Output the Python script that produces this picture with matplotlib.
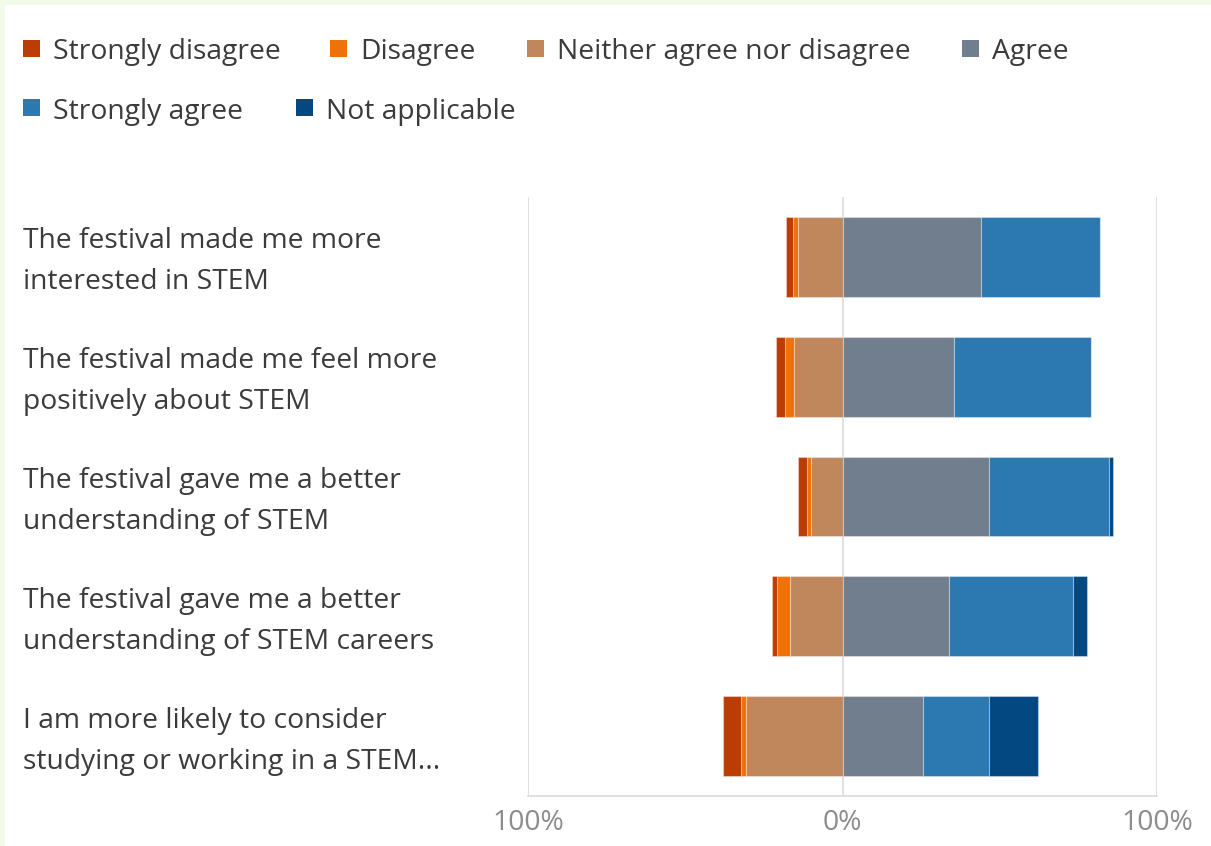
import matplotlib
matplotlib.use("Agg")
import matplotlib.pyplot as plt
import matplotlib.patches as mpatches
import numpy as np

# Survey statements (wrapped as shown on the chart)
statements = [
    "The festival made me more\ninterested in STEM",
    "The festival made me feel more\npositively about STEM",
    "The festival gave me a better\nunderstanding of STEM",
    "The festival gave me a better\nunderstanding of STEM careers",
    "I am more likely to consider\nstudying or working in a STEM...",
]

# Response shares, percent of respondents
strongly_disagree = [2.5, 2.8, 2.7, 1.7, 5.7]
disagree = [1.6, 2.8, 1.4, 3.9, 1.5]
neither = [14.0, 15.4, 9.9, 16.8, 30.7]
agree = [43.9, 35.6, 46.6, 33.9, 25.5]
strongly_agree = [38.0, 43.4, 38.1, 39.5, 21.1]
not_applicable = [0.0, 0.0, 1.3, 4.2, 15.5]

series_names = ["Strongly disagree", "Disagree", "Neither agree nor disagree",
                "Agree", "Strongly agree", "Not applicable"]
colors = ["#BC3D03", "#EE720A", "#C0875C", "#707E8E", "#2C78B0", "#034881"]

tick_values = [-100, 0, 100]
tick_labels = ["100%", "0%", "100%"]

W, H = 1211, 846
fig = plt.figure(figsize=(W / 100, H / 100), dpi=100)
fig.patch.set_facecolor("#F2FAEA")

def fx(px):
    return px / W

def fy(py):
    return 1 - py / H

# white panel inside the pale frame
fig.patches.append(mpatches.Rectangle((fx(5), 0), 1 - fx(5), fy(5), transform=fig.transFigure,
                                      facecolor="white", edgecolor="none", zorder=-5))

FONT = "Open Sans"
TEXT_COLOR = "#3B3B3B"
FS = 20.3

ax = fig.add_axes([fx(528), fy(796), fx(1157) - fx(528), fy(197) - fy(796)])
ax.set_zorder(2)
ax.set_facecolor("none")

y = np.arange(len(statements))
bar_h = 0.667
edge = dict(edgecolor=(1, 1, 1, 0.35), linewidth=0.8)

sd = np.array(strongly_disagree)
d = np.array(disagree)
n = np.array(neither)
a = np.array(agree)
sa = np.array(strongly_agree)
na = np.array(not_applicable)

# negative side: neutral nearest zero, then disagree, then strongly disagree
ax.barh(y, -n, left=0, height=bar_h, color=colors[2], zorder=3, **edge)
ax.barh(y, -d, left=-n, height=bar_h, color=colors[1], zorder=3, **edge)
ax.barh(y, -sd, left=-(n + d), height=bar_h, color=colors[0], zorder=3, **edge)
# positive side
ax.barh(y, a, left=0, height=bar_h, color=colors[3], zorder=3, **edge)
ax.barh(y, sa, left=a, height=bar_h, color=colors[4], zorder=3, **edge)
ax.barh(y, na, left=a + sa, height=bar_h, color=colors[5], zorder=3, **edge)

ax.set_xlim(-100, 100)
ax.set_ylim(len(statements) - 0.5, -0.5)
ax.set_xticks(tick_values)
ax.set_xticklabels(tick_labels, fontfamily=FONT, fontsize=FS, color="#8C8C8C")
ax.tick_params(axis="x", length=0, pad=9)
ax.set_yticks([])
for v in tick_values:
    ax.axvline(v, color="#DADADA", linewidth=1.2, zorder=1)
for side in ["top", "left", "right"]:
    ax.spines[side].set_visible(False)
ax.spines["bottom"].set_color("#DADADA")
ax.spines["bottom"].set_linewidth(1.2)

# category labels, left aligned in the margin
for yi, label in zip(y, statements):
    yc = ax.transData.transform((0, yi))[1]
    yfig = fig.transFigure.inverted().transform((0, yc))[1] - 5 / H
    fig.text(fx(23), yfig, label, ha="left", va="center", fontfamily=FONT,
             fontsize=FS, color=TEXT_COLOR, linespacing=1.62)

# legend laid out in two rows
legend_layout = [(23, 49), (330, 49), (527, 49), (962, 49), (23, 108), (296, 108)]
sq = 17
for name, col, (px, py) in zip(series_names, colors, legend_layout):
    fig.patches.append(mpatches.Rectangle((fx(px), fy(py + sq / 2)), sq / W, sq / H,
                                          transform=fig.transFigure, facecolor=col,
                                          edgecolor="none"))
    fig.text(fx(px + 30), fy(py), name, ha="left", va="center_baseline", fontfamily=FONT,
             fontsize=FS, color=TEXT_COLOR)

fig.savefig("out.png", dpi=100, facecolor=fig.get_facecolor())
